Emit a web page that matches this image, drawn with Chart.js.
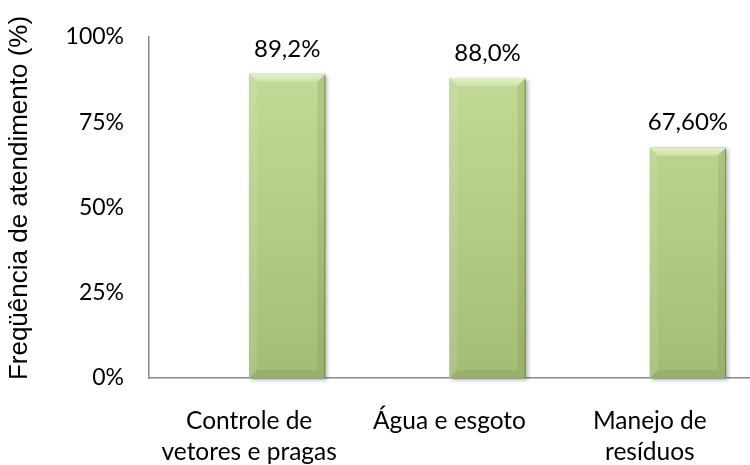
<!DOCTYPE html>
<html>

<head>
    <title>Frequência de atendimento</title>
    <style>
        html, body {
            margin: 0;
            padding: 0;
            background: #ffffff;
            overflow: hidden;
        }

        #canvas-container {
            position: relative;
            width: 750px;
            height: 465px;
        }
    </style>
    <script src="https://cdn.jsdelivr.net/npm/chart.js"></script>
</head>

<body>
    <div id="canvas-container">
        <canvas id="myChart"></canvas>
    </div>

    <script>
        // Categories (one multi-line label each)
        const categories = [
            ['Controle de', 'vetores e pragas'],
            ['Água e esgoto'],
            ['Manejo de', 'resíduos']
        ];
        // First series is empty, it only keeps its slot in each group
        const emptySeries = [null, null, null];
        // Percentages for each category
        const values = [89.2, 88.0, 67.6];
        // Text shown above each bar
        const valueLabels = ['89,2%', '88,0%', '67,60%'];
        // Y axis ticks
        const yTicks = [0, 25, 50, 75, 100];
        const yTitle = 'Freqüência de atendimento (%)';

        const axisColor = '#8a8a8a';

        const canvas = document.getElementById('myChart');
        const ctx = canvas.getContext('2d');

        // Vertical green gradient for the bar face
        function barFill(context) {
            const area = context.chart.chartArea;
            if (!area) return '#b3cc86';
            const g = context.chart.ctx.createLinearGradient(0, area.top, 0, area.bottom);
            g.addColorStop(0, '#c4dd97');
            g.addColorStop(0.5, '#b4ce87');
            g.addColorStop(1, '#a2bd76');
            return g;
        }

        // Bevelled edges + soft shadow around each bar
        const bevelPlugin = {
            id: 'bevel',
            beforeDatasetsDraw(chart) {
                const c = chart.ctx;
                chart.getDatasetMeta(1).data.forEach(bar => {
                    const l = bar.x - bar.width / 2, r = bar.x + bar.width / 2;
                    c.save();
                    c.shadowColor = 'rgba(0,0,0,0.3)';
                    c.shadowBlur = 4;
                    c.shadowOffsetX = 2;
                    c.shadowOffsetY = 2;
                    c.fillStyle = '#a2bd76';
                    c.fillRect(l, bar.y, r - l, bar.base - bar.y);
                    c.restore();
                });
            },
            afterDatasetsDraw(chart) {
                const c = chart.ctx;
                const b = 8;
                chart.getDatasetMeta(1).data.forEach(bar => {
                    const l = bar.x - bar.width / 2, r = bar.x + bar.width / 2;
                    const t = bar.y, btm = bar.base;
                    c.save();
                    // top
                    let g = c.createLinearGradient(0, t, 0, t + b);
                    g.addColorStop(0, '#e2f0c4');
                    g.addColorStop(1, '#cfe4a8');
                    c.fillStyle = g;
                    c.beginPath();
                    c.moveTo(l, t); c.lineTo(r, t); c.lineTo(r - b, t + b); c.lineTo(l + b, t + b);
                    c.closePath(); c.fill();
                    // left
                    c.fillStyle = 'rgba(255,255,255,0.10)';
                    c.beginPath();
                    c.moveTo(l, t); c.lineTo(l + b, t + b); c.lineTo(l + b, btm - b); c.lineTo(l, btm);
                    c.closePath(); c.fill();
                    // right
                    c.fillStyle = 'rgba(70,90,30,0.12)';
                    c.beginPath();
                    c.moveTo(r, t); c.lineTo(r - b, t + b); c.lineTo(r - b, btm - b); c.lineTo(r, btm);
                    c.closePath(); c.fill();
                    // bottom
                    c.fillStyle = 'rgba(70,90,30,0.12)';
                    c.beginPath();
                    c.moveTo(l, btm); c.lineTo(l + b, btm - b); c.lineTo(r - b, btm - b); c.lineTo(r, btm);
                    c.closePath(); c.fill();
                    // thin dark outline on the right edge
                    c.strokeStyle = 'rgba(80,100,40,0.55)';
                    c.lineWidth = 1;
                    c.beginPath();
                    c.moveTo(r - 0.5, t + 2); c.lineTo(r - 0.5, btm);
                    c.stroke();
                    c.restore();
                });
            }
        };

        // Value labels above the bars
        const valueLabelPlugin = {
            id: 'valueLabels',
            afterDatasetsDraw(chart) {
                const c = chart.ctx;
                c.save();
                c.font = '24px Lato';
                c.fillStyle = '#000000';
                c.textAlign = 'center';
                c.textBaseline = 'alphabetic';
                chart.getDatasetMeta(1).data.forEach((bar, i) => {
                    c.fillText(valueLabels[i], bar.x, bar.y - 17);
                });
                c.restore();
            }
        };

        // Rotated y axis title
        const yTitlePlugin = {
            id: 'yTitle',
            afterDraw(chart) {
                const c = chart.ctx;
                c.save();
                c.translate(20, 198);
                c.rotate(-Math.PI / 2);
                c.font = '26px "Liberation Sans"';
                c.fillStyle = '#000000';
                c.textAlign = 'center';
                c.textBaseline = 'middle';
                c.fillText(yTitle, 0, 0);
                c.restore();
            }
        };

        const myChart = new Chart(ctx, {
            type: 'bar',
            data: {
                labels: categories,
                datasets: [{
                    data: emptySeries,
                    backgroundColor: 'rgba(0,0,0,0)'
                }, {
                    data: values,
                    backgroundColor: barFill
                }]
            },
            options: {
                responsive: true,
                maintainAspectRatio: false,
                animation: false,
                categoryPercentage: 0.76,
                barPercentage: 1,
                borderWidth: 0,
                layout: {
                    padding: { top: 37, right: 0, left: 0, bottom: 0 }
                },
                plugins: {
                    legend: { display: false },
                    tooltip: { enabled: false }
                },
                scales: {
                    x: {
                        grid: { display: false, drawTicks: false },
                        border: { color: axisColor, width: 1.5 },
                        afterFit: scale => {
                            scale.height = 87;
                            scale.paddingLeft = 0;
                            scale.paddingRight = 0;
                        },
                        ticks: {
                            font: { family: 'Lato', size: 24.5, lineHeight: 1.25 },
                            color: '#000000',
                            padding: 28,
                            maxRotation: 0,
                            autoSkip: false
                        }
                    },
                    y: {
                        min: 0,
                        max: 100,
                        grid: { display: false, drawTicks: false },
                        border: { color: axisColor, width: 1.5 },
                        afterBuildTicks: scale => {
                            scale.ticks = yTicks.map(v => ({ value: v }));
                        },
                        afterFit: scale => {
                            scale.width = 149;
                            scale.paddingTop = 0;
                            scale.paddingBottom = 0;
                        },
                        ticks: {
                            font: { family: 'Lato', size: 23 },
                            color: '#000000',
                            padding: 25,
                            callback: v => v + '%'
                        }
                    }
                }
            },
            plugins: [bevelPlugin, valueLabelPlugin, yTitlePlugin]
        });
    </script>
</body>

</html>
